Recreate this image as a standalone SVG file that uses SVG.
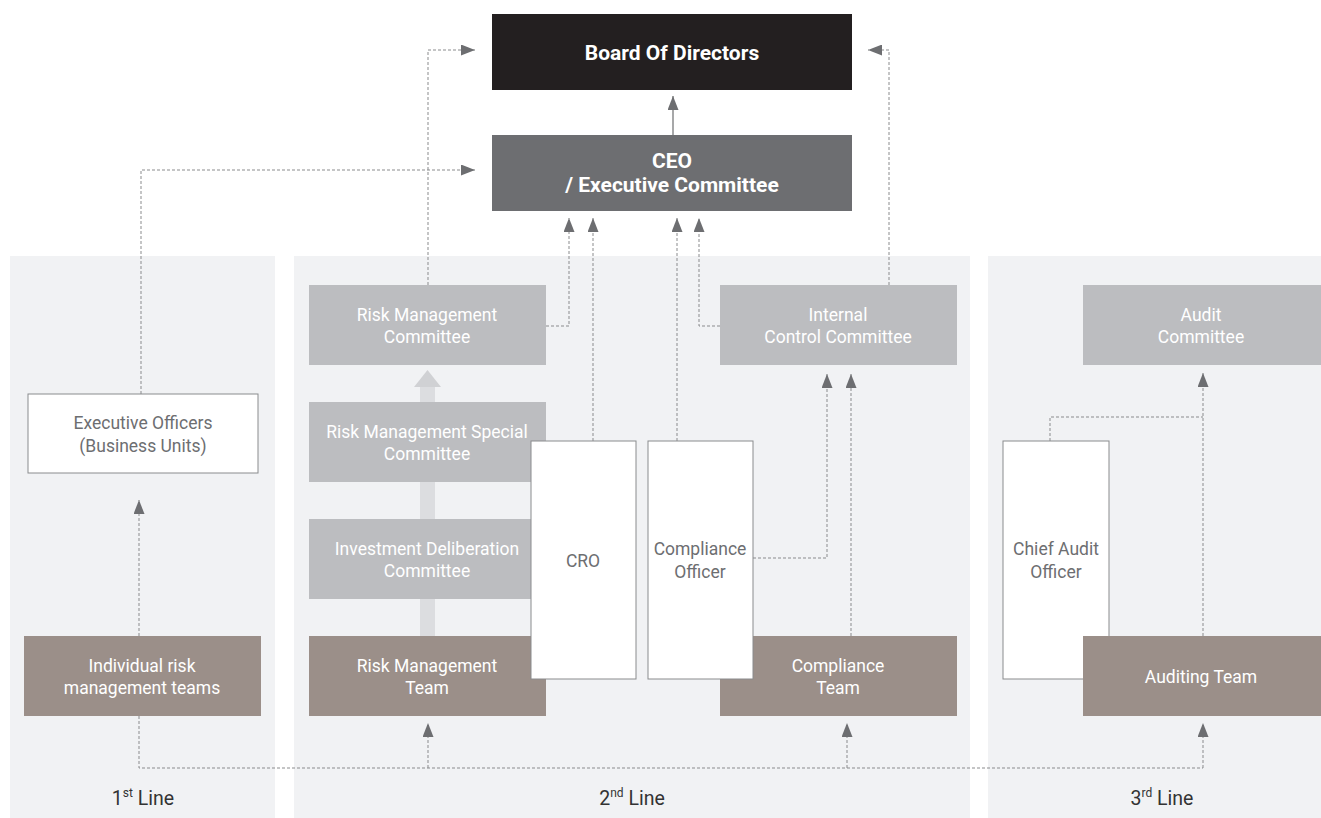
<svg xmlns="http://www.w3.org/2000/svg" width="1321" height="818" viewBox="0 0 1321 818">
<defs>
<style>
.panel{fill:#f1f2f4}
.dark{fill:#231f20}
.ceo{fill:#6d6e71}
.com{fill:#bcbdc0}
.team{fill:#9b8f89}
.off{fill:#ffffff;stroke:#8a8b8d;stroke-width:1}
.fat{fill:#dcdde0}
.fathead{fill:#d0d1d4}
text{font-family:Roboto,"Liberation Sans",sans-serif;font-size:17.5px;text-anchor:middle}
.w{fill:#ffffff}
.g{fill:#6d6e71}
.b{font-weight:bold;font-size:21px}
.lbl{fill:#333333;font-size:19.5px}
.dash{fill:none;stroke:#8a8b8d;stroke-width:1;stroke-dasharray:3 2}
.solid{fill:none;stroke:#8a8b8d;stroke-width:1.5}
</style>
<marker id="ah" viewBox="0 0 14 11" refX="14" refY="5.5" markerWidth="14" markerHeight="11" markerUnits="userSpaceOnUse" orient="auto">
<path d="M0,0 L14,5.5 L0,11 z" fill="#6d6e71"/>
</marker>
</defs>

<g id="panels">
<rect class="panel" x="10" y="256" width="265" height="562"/>
<rect class="panel" x="294" y="256" width="676" height="562"/>
<rect class="panel" x="988" y="256" width="333" height="562"/>
<text class="lbl" x="143" y="805">1<tspan font-size="12" dy="-8">st</tspan><tspan dy="8"> Line</tspan></text>
<text class="lbl" x="632" y="805">2<tspan font-size="12" dy="-8">nd</tspan><tspan dy="8"> Line</tspan></text>
<text class="lbl" x="1162" y="805">3<tspan font-size="12" dy="-8">rd</tspan><tspan dy="8"> Line</tspan></text>
</g>

<g id="fat-arrow">
<rect class="fat" x="420" y="387" width="15" height="249"/>
<polygon class="fathead" points="414,387 427.5,370 441,387"/>
</g>

<g id="board"><rect class="dark" x="492" y="14" width="360" height="76"/><text class="w b" x="672" y="60">Board Of Directors</text></g>
<g id="ceo"><rect class="ceo" x="492" y="135" width="360" height="76"/><text class="w b" x="672" y="168">CEO</text><text class="w b" x="672" y="192">/ Executive Committee</text></g>

<g id="rmc"><rect class="com" x="309" y="285" width="237" height="80"/><text class="w" x="427" y="321">Risk Management</text><text class="w" x="427" y="343">Committee</text></g>
<g id="rmsc"><rect class="com" x="309" y="402" width="237" height="80"/><text class="w" x="427" y="438">Risk Management Special</text><text class="w" x="427" y="460">Committee</text></g>
<g id="idc"><rect class="com" x="309" y="519" width="237" height="80"/><text class="w" x="427" y="555">Investment Deliberation</text><text class="w" x="427" y="577">Committee</text></g>
<g id="rmt"><rect class="team" x="309" y="636" width="237" height="80"/><text class="w" x="427" y="672">Risk Management</text><text class="w" x="427" y="694">Team</text></g>

<g id="icc"><rect class="com" x="720" y="285" width="237" height="80"/><text class="w" x="838" y="321">Internal</text><text class="w" x="838" y="343">Control Committee</text></g>
<g id="ct"><rect class="team" x="720" y="636" width="237" height="80"/><text class="w" x="838" y="672">Compliance</text><text class="w" x="838" y="694">Team</text></g>

<g id="cro"><rect class="off" x="531" y="441" width="105" height="238"/><text class="g" x="583" y="567">CRO</text></g>
<g id="co"><rect class="off" x="648" y="441" width="105" height="238"/><text class="g" x="700" y="555">Compliance</text><text class="g" x="700" y="578">Officer</text></g>

<g id="eo"><rect class="off" x="28" y="394" width="230" height="79"/><text class="g" x="143" y="429">Executive Officers</text><text class="g" x="143" y="452">(Business Units)</text></g>
<g id="irmt"><rect class="team" x="24" y="636" width="237" height="80"/><text class="w" x="142" y="672">Individual risk</text><text class="w" x="142" y="694">management teams</text></g>

<g id="ac"><rect class="com" x="1083" y="285" width="238" height="80"/><text class="w" x="1201" y="321">Audit</text><text class="w" x="1201" y="343">Committee</text></g>
<g id="cao"><rect class="off" x="1003" y="441" width="106" height="238"/><text class="g" x="1056" y="555">Chief Audit</text><text class="g" x="1056" y="578">Officer</text></g>
<g id="at"><rect class="team" x="1083" y="636" width="238" height="80"/><text class="w" x="1201" y="683">Auditing Team</text></g>

<g id="connectors">
<line class="solid" x1="673" y1="135" x2="673" y2="96" marker-end="url(#ah)"/>
<polyline class="dash" points="428,285 428,50 475,50" marker-end="url(#ah)"/>
<polyline class="dash" points="141,394 141,170 475,170" marker-end="url(#ah)"/>
<polyline class="dash" points="889,285 889,50 868,50" marker-end="url(#ah)"/>
<polyline class="dash" points="546,326 569,326 569,218" marker-end="url(#ah)"/>
<polyline class="dash" points="593,441 593,218" marker-end="url(#ah)"/>
<polyline class="dash" points="677,441 677,218" marker-end="url(#ah)"/>
<polyline class="dash" points="720,326 699,326 699,218" marker-end="url(#ah)"/>
<polyline class="dash" points="753,558 827,558 827,374" marker-end="url(#ah)"/>
<polyline class="dash" points="851,636 851,374" marker-end="url(#ah)"/>
<polyline class="dash" points="139,636 139,500" marker-end="url(#ah)"/>
<polyline class="dash" points="1050,441 1050,417 1203,417" />
<polyline class="dash" points="1203,636 1203,373" marker-end="url(#ah)"/>
<polyline class="dash" points="139,716 139,768 1203,768"/>
<polyline class="dash" points="428,768 428,723" marker-end="url(#ah)"/>
<polyline class="dash" points="847,768 847,723" marker-end="url(#ah)"/>
<polyline class="dash" points="1203,768 1203,723" marker-end="url(#ah)"/>
</g>
</svg>
